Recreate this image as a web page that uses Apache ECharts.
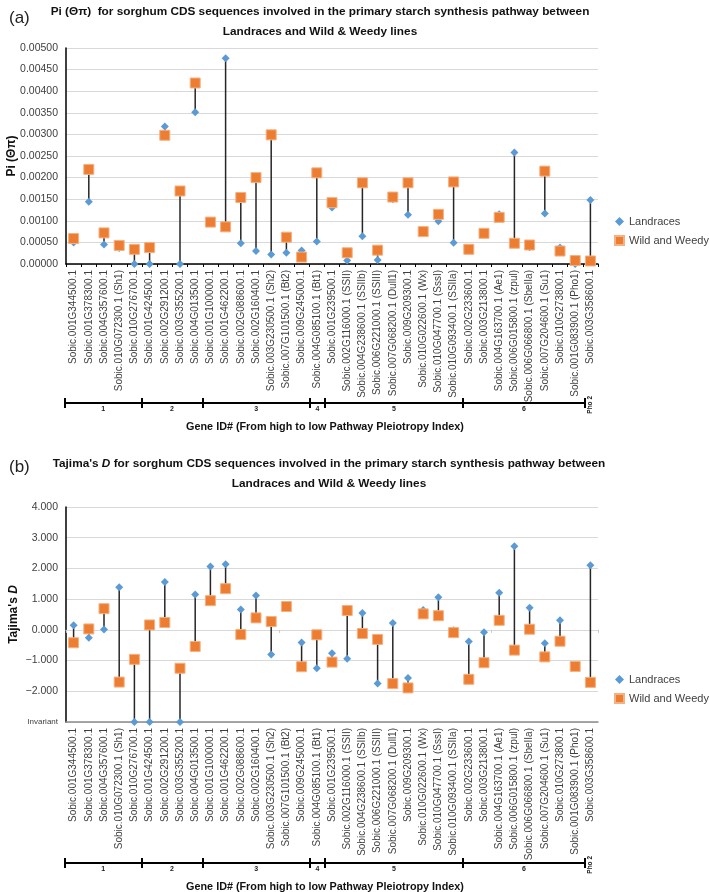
<!DOCTYPE html>
<html>
<head>
<meta charset="utf-8">
<script src="https://cdn.jsdelivr.net/npm/echarts@6/dist/echarts.min.js"></script>
<style>
html,body{margin:0;padding:0;background:#fff;}
#c{width:709px;height:892px;}
</style>
</head>
<body>
<div id="c"></div>
<script>
const categories = [
  'Sobic.001G344500.1','Sobic.001G378300.1','Sobic.004G357600.1','Sobic.010G072300.1 (Sh1)','Sobic.010G276700.1',
  'Sobic.001G424500.1','Sobic.002G291200.1','Sobic.003G355200.1','Sobic.004G013500.1',
  'Sobic.001G100000.1','Sobic.001G462200.1','Sobic.002G088600.1','Sobic.002G160400.1','Sobic.003G230500.1 (Sh2)','Sobic.007G101500.1 (Bt2)','Sobic.009G245000.1',
  'Sobic.004G085100.1 (Bt1)',
  'Sobic.001G239500.1','Sobic.002G116000.1 (SSII)','Sobic.004G238600.1 (SSIIb)','Sobic.006G221000.1 (SSIII)','Sobic.007G068200.1 (Dull1)','Sobic.009G209300.1','Sobic.010G022600.1 (Wx)','Sobic.010G047700.1 (SssI)','Sobic.010G093400.1 (SSIIa)',
  'Sobic.002G233600.1','Sobic.003G213800.1','Sobic.004G163700.1 (Ae1)','Sobic.006G015800.1 (zpul)','Sobic.006G066800.1 (SbeIIa)','Sobic.007G204600.1 (Su1)','Sobic.010G273800.1','Sobic.001G083900.1 (Pho1)',
  'Sobic.003G358600.1'
];
// Pi (Θπ)
const piLandraces = [0.00050,0.00144,0.00045,0.00037,0,0,0.00318,0,0.00351,0.00099,0.00476,0.00048,0.00030,0.00022,0.00026,0.00031,0.00052,0.00131,0.00008,0.00064,0.00009,0.00150,0.00114,0.00076,0.00099,0.00049,0.00033,0.00072,0.00115,0.00258,0.00039,0.00117,0.00038,0,0.00148];
const piWild = [0.00059,0.00219,0.00072,0.00043,0.00034,0.00038,0.00298,0.00169,0.00419,0.00097,0.00086,0.00154,0.00200,0.00299,0.00062,0.00016,0.00211,0.00142,0.00026,0.00188,0.00032,0.00155,0.00188,0.00075,0.00115,0.00190,0.00034,0.00071,0.00108,0.00048,0.00044,0.00215,0.00030,0.00008,0.00007];
// Tajima's D ('Invariant' = plotted at the Invariant position of the axis, null = no value)
const tajLandraces = [0.15,-0.26,0.01,1.39,'Invariant','Invariant',1.56,'Invariant',1.15,2.06,2.14,0.66,1.12,-0.80,0.78,-0.41,-1.25,-0.76,-0.94,0.55,-1.75,0.22,-1.57,0.65,1.06,-0.01,-0.38,-0.08,1.21,2.72,0.72,-0.44,0.31,null,2.10];
const tajWild = [-0.42,0.03,0.69,-1.70,-0.96,0.16,0.24,-1.25,-0.54,0.95,1.34,-0.15,0.39,0.27,0.76,-1.20,-0.16,-1.05,0.63,-0.12,-0.31,-1.75,-1.89,0.52,0.46,-0.09,-1.61,-1.07,0.31,-0.66,0.02,-0.88,-0.37,-1.19,-1.71];
// Pathway pleiotropy groups (category boundaries)
const groupBounds = [0,5,9,16,17,26,34];
const groupLabels = ['1','2','3','4','5','6'];
const lastGroupLabel = 'Pho 2';
const piTicks = {min:0, max:0.005, interval:0.0005};
const tajTicks = {min:-3, max:4, interval:1};

const FONT = 'Liberation Sans';
const TXT = '#404040';
const BLUE = '#5B9BD5';
const ORANGE = '#ED7D31';

const groupCenters = groupLabels.map((l,i)=>(groupBounds[i]+groupBounds[i+1])/2);

function toPlot(v){ return v === 'Invariant' ? tajTicks.min : (v === null ? '-' : v); }
const tajLandPlot = tajLandraces.map(toPlot);
const tajWildPlot = tajWild.map(toPlot);

function pairs(a, b){
  const out = [];
  for (let i=0;i<a.length;i++){
    if (a[i] === '-' || b[i] === '-' || a[i] == null || b[i] == null) continue;
    out.push([i, a[i], b[i]]);
  }
  return out;
}
function renderStem(params, api){
  const p1 = api.coord([api.value(0), api.value(1)]);
  const p2 = api.coord([api.value(0), api.value(2)]);
  return {type:'line', shape:{x1:p1[0], y1:p1[1], x2:p2[0], y2:p2[1]}, style:{stroke:'#262626', lineWidth:1.5}};
}
function fmtTaj(v){
  if (v === tajTicks.min) return '{s|Invariant}';
  const s = Math.abs(v).toFixed(3);
  return v < 0 ? '\u2212' + s : s;
}

const catAxisLabel = {interval:0, rotate:90, fontFamily:FONT, fontSize:10, color:TXT, margin:6};

function bracketAxes(gridIndex){
  return [
    {gridIndex, type:'value', min:0, max:34, position:'bottom',
     axisLine:{show:true, onZero:false, lineStyle:{color:'#000', width:2}},
     axisTick:{show:true, inside:true, length:5, customValues:groupBounds, lineStyle:{color:'#000', width:2}},
     axisLabel:{show:false}, splitLine:{show:false}},
    {gridIndex, type:'value', min:0, max:34, position:'bottom',
     axisLine:{show:false, onZero:false},
     axisTick:{show:true, inside:false, length:5, customValues:groupBounds, lineStyle:{color:'#000', width:2}},
     axisLabel:{show:true, customValues:groupCenters, margin:3, fontFamily:FONT, fontSize:7, fontWeight:'bold', color:'#222',
       formatter:(v)=>{const k = groupCenters.indexOf(v); return k>=0 ? groupLabels[k] : '';}},
     splitLine:{show:false},
     name:'Gene ID# (From high to low Pathway Pleiotropy Index)', nameLocation:'middle', nameGap:19, nameMoveOverlap:false,
     nameTextStyle:{fontFamily:FONT, fontSize:10.8, fontWeight:'bold', color:'#111'}}
  ];
}
function phoAxis(gridIndex, offset){
  return {gridIndex, type:'category', data:categories, position:'bottom', offset,
    axisLine:{show:false, onZero:false}, axisTick:{show:false},
    axisLabel:{interval:0, rotate:90, margin:-7, fontFamily:FONT, fontSize:6.5, fontWeight:'bold', color:'#222',
      formatter:(v,i)=> i === categories.length-1 ? lastGroupLabel : ''}};
}
const titleStyle = {fontFamily:FONT, fontSize:11.8, fontWeight:'bold', color:'#111', lineHeight:20};

const option = {
  animation:false,
  backgroundColor:'#fff',
  title:[
    {text:'(a)', left:4, top:5, textStyle:{fontFamily:FONT, fontSize:17, fontWeight:'normal', color:'#222'}},
    {text:'Pi (\u0398\u03c0)  for sorghum CDS sequences involved in the primary starch synthesis pathway between\nLandraces and Wild & Weedy lines',
     left:315, top:-3, textAlign:'center', textStyle:titleStyle},
    {text:'(b)', left:4, top:454, textStyle:{fontFamily:FONT, fontSize:17, fontWeight:'normal', color:'#222'}},
    {text:"{b|Tajima's }{i|D}{b| for sorghum CDS sequences involved in the primary starch synthesis pathway between}\n{b|Landraces and Wild & Weedy lines}",
     left:324, top:449, textAlign:'center',
     textStyle:{rich:{b:titleStyle, i:Object.assign({}, titleStyle, {fontStyle:'italic'})}}}
  ],
  legend:[
    {orient:'vertical', left:609, top:211, itemGap:8, itemWidth:9, itemHeight:9,
     textStyle:{fontFamily:FONT, fontSize:11, color:TXT},
     data:[{name:'Landraces', icon:'diamond'},{name:'Wild and Weedy', icon:'rect'}]},
    {orient:'vertical', left:609, top:669, itemGap:8, itemWidth:9, itemHeight:9,
     textStyle:{fontFamily:FONT, fontSize:11, color:TXT},
     data:[{name:'Landraces', icon:'diamond'},{name:'Wild and Weedy', icon:'rect'}]}
  ],
  grid:[
    {left:66, width:532, top:48, height:216, containLabel:false, outerBoundsMode:'none'},
    {left:66, width:532, top:507, height:215, containLabel:false, outerBoundsMode:'none'},
    {left:65, width:520, top:400, height:3, containLabel:false, outerBoundsMode:'none'},
    {left:65, width:520, top:860, height:3, containLabel:false, outerBoundsMode:'none'}
  ],
  xAxis:[
    {gridIndex:0, type:'category', data:categories, position:'bottom',
     axisLine:{onZero:false, lineStyle:{color:'#000', width:1.5}},
     axisTick:{show:true, length:3, lineStyle:{color:'#000'}},
     axisLabel:catAxisLabel},
    {gridIndex:1, type:'category', data:categories, position:'bottom',
     axisLine:{onZero:false, lineStyle:{color:'#8c8c8c', width:1.5}},
     axisTick:{show:false},
     axisLabel:catAxisLabel},
    {gridIndex:1, type:'category', data:categories, position:'bottom',
     axisLine:{show:true, onZero:true, lineStyle:{color:'#d9d9d9', width:1}},
     axisTick:{show:true, length:3, lineStyle:{color:'#c8c8c8'}},
     axisLabel:{show:false}},
    phoAxis(0, 139),
    phoAxis(1, 141),
    ...bracketAxes(2),
    ...bracketAxes(3)
  ],
  yAxis:[
    {gridIndex:0, type:'value', min:piTicks.min, max:piTicks.max, interval:piTicks.interval,
     axisLine:{show:true, onZero:false, lineStyle:{color:'#000', width:1.5}}, axisTick:{show:false},
     axisLabel:{fontFamily:FONT, fontSize:10.5, color:TXT, margin:8, formatter:(v)=>v.toFixed(5)},
     splitLine:{lineStyle:{color:'#d9d9d9', width:1}},
     name:'Pi (\u0398\u03c0)', nameLocation:'middle', nameGap:48, nameMoveOverlap:false,
     nameTextStyle:{fontFamily:FONT, fontSize:12, fontWeight:'bold', color:'#111'}},
    {gridIndex:1, type:'value', min:tajTicks.min, max:tajTicks.max, interval:tajTicks.interval,
     axisLine:{show:true, onZero:false, lineStyle:{color:'#000', width:1.5}}, axisTick:{show:false},
     axisLabel:{fontFamily:FONT, fontSize:10.5, color:TXT, margin:8, formatter:fmtTaj,
       rich:{s:{fontFamily:FONT, fontSize:8, color:TXT}}},
     splitLine:{lineStyle:{color:'#d9d9d9', width:1}},
     name:"{b|Tajima's }{i|D}", nameLocation:'middle', nameGap:46, nameMoveOverlap:false,
     nameTextStyle:{rich:{
       b:{fontFamily:FONT, fontSize:12, fontWeight:'bold', color:'#111'},
       i:{fontFamily:FONT, fontSize:12, fontWeight:'bold', fontStyle:'italic', color:'#111'}}}},
    {gridIndex:2, type:'value', show:false},
    {gridIndex:3, type:'value', show:false}
  ],
  series:[
    {type:'custom', xAxisIndex:0, yAxisIndex:0, renderItem:renderStem, data:pairs(piLandraces, piWild),
     encode:{x:0, y:[1,2]}, z:1, silent:true},
    {name:'Landraces', type:'scatter', xAxisIndex:0, yAxisIndex:0, data:piLandraces, symbol:'diamond', symbolSize:8,
     itemStyle:{color:BLUE, opacity:1}, z:2, clip:false},
    {name:'Wild and Weedy', type:'scatter', xAxisIndex:0, yAxisIndex:0, data:piWild, symbol:'rect', symbolSize:10,
     itemStyle:{color:ORANGE, borderColor:'#F4B183', borderWidth:1, opacity:1}, z:3, clip:false},
    {type:'custom', xAxisIndex:1, yAxisIndex:1, renderItem:renderStem, data:pairs(tajLandPlot, tajWildPlot),
     encode:{x:0, y:[1,2]}, z:1, silent:true},
    {name:'Landraces', type:'scatter', xAxisIndex:1, yAxisIndex:1, data:tajLandPlot, symbol:'diamond', symbolSize:8,
     itemStyle:{color:BLUE, opacity:1}, z:2, clip:false},
    {name:'Wild and Weedy', type:'scatter', xAxisIndex:1, yAxisIndex:1, data:tajWildPlot, symbol:'rect', symbolSize:10,
     itemStyle:{color:ORANGE, borderColor:'#F4B183', borderWidth:1, opacity:1}, z:3, clip:false}
  ]
};
const chart = echarts.init(document.getElementById('c'), null, {renderer:'canvas'});
chart.setOption(option);
</script>
</body>
</html>
